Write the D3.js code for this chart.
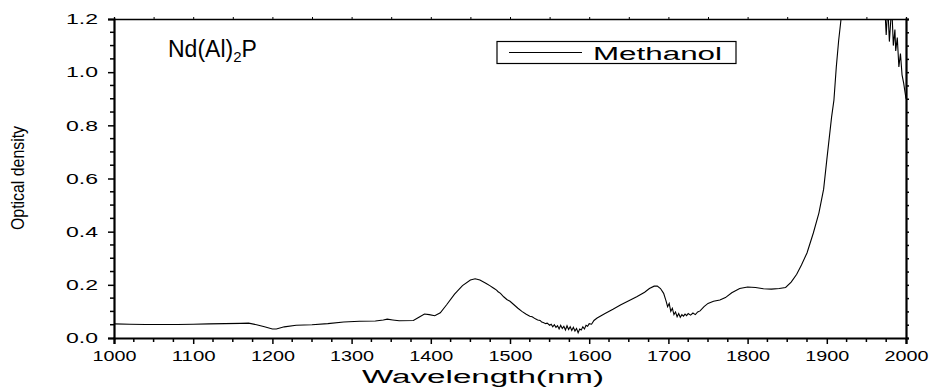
<!DOCTYPE html>
<html>
<head>
  <meta charset="UTF-8">
  <style>
    body { margin: 0; background: #fff; }
    text { font-family: Arial, "Liberation Sans", sans-serif; fill: #000; }
  </style>
</head>
<body>
<script type='text/javascript' src='https://d3js.org/d3.v7.min.js'></script>
<script>
  var width = 932, height = 387;

  // wavelength (nm) and optical density
  var wavelength = [1000,1020,1040,1060,1080,1100,1120,1140,1160,1170,1180,1190,1200,1205,1215,1230,1250,1270,1290,1310,1330,1340,1345,1352,1360,1378,1385,1392,1398,1405,1412,1420,1430,1440,1450,1456,1462,1470,1475,1478,1480,1483,1485,1488,1492,1496,1500,1505,1510,1515,1520,1525,1528,1532,1535,1538,1540,1542,1545,1547,1550,1552,1554,1556,1558,1560,1562,1564,1566,1568,1570,1572,1574,1576,1578,1580,1582,1584,1586,1588,1590,1592,1594,1596,1598,1600,1603,1606,1610,1620,1630,1640,1650,1660,1670,1676,1682,1686,1690,1694,1697,1699,1701,1703,1705,1707,1709,1711,1713,1715,1717,1719,1721,1723,1725,1728,1731,1734,1737,1740,1745,1750,1757,1765,1772,1780,1790,1800,1810,1820,1830,1840,1848,1855,1862,1868,1875,1883,1890,1896,1900,1906,1909,1912,1915,1918,1922,1940,1960,1972,1974,1975,1977,1979,1982,1984,1986,1987,1989,1991,1993,1995,1997,2000];
  var methanol = [0.053,0.052,0.051,0.051,0.051,0.052,0.053,0.054,0.055,0.056,0.050,0.042,0.034,0.034,0.042,0.048,0.050,0.054,0.060,0.063,0.064,0.068,0.071,0.068,0.065,0.066,0.078,0.090,0.088,0.084,0.095,0.125,0.165,0.197,0.218,0.223,0.218,0.205,0.196,0.190,0.186,0.180,0.174,0.168,0.155,0.145,0.138,0.125,0.112,0.100,0.090,0.082,0.080,0.072,0.068,0.066,0.060,0.058,0.054,0.056,0.048,0.052,0.042,0.050,0.040,0.046,0.034,0.048,0.036,0.044,0.030,0.046,0.032,0.042,0.028,0.040,0.026,0.036,0.020,0.034,0.030,0.042,0.034,0.048,0.044,0.054,0.052,0.066,0.075,0.092,0.108,0.125,0.140,0.155,0.172,0.186,0.195,0.195,0.186,0.168,0.140,0.118,0.130,0.100,0.112,0.088,0.098,0.080,0.092,0.078,0.088,0.082,0.090,0.084,0.092,0.086,0.094,0.088,0.098,0.102,0.118,0.130,0.138,0.143,0.152,0.170,0.186,0.192,0.190,0.185,0.184,0.186,0.190,0.210,0.240,0.275,0.320,0.395,0.470,0.560,0.670,0.830,0.895,1.020,1.120,1.200,1.300,1.400,1.400,1.260,1.200,1.140,1.250,1.115,1.250,1.100,1.160,1.080,1.130,1.020,1.070,0.990,0.960,0.900];

  var xTicks = [1000,1100,1200,1300,1400,1500,1600,1700,1800,1900,2000];
  var yTicks = [0.0,0.2,0.4,0.6,0.8,1.0,1.2];

  // plot frame (don't call these top/left: window.top is read-only)
  var plotL = 114, plotR = 906, plotT = 19, plotB = 338;

  var svg = d3.select('body').append('svg').attr('width', width).attr('height', height);

  var x = d3.scaleLinear().domain([1000, 2000]).range([plotL, plotR]);
  var y = d3.scaleLinear().domain([0, 1.2]).range([plotB, plotT]);

  svg.append('clipPath').attr('id', 'plot')
    .append('rect').attr('x', plotL).attr('y', plotT).attr('width', plotR - plotL).attr('height', plotB - plotT);

  // curve
  var line = d3.line().x(function(d, i) { return x(wavelength[i]) }).y(function(d) { return y(d) });
  svg.append('path')
    .datum(methanol)
    .attr('clip-path', 'url(#plot)')
    .attr('d', line)
    .attr('fill', 'none').attr('stroke', '#000').attr('stroke-width', 1.1);

  // minor ticks
  var xMinor = d3.range(1000, 2001, 25).filter(function(v) { return v % 100 != 0 });
  var yMinor = d3.range(0, 1.21, 0.05).filter(function(v) { return Math.round(v * 100) % 20 != 0 });

  var bottomAxis = svg.append('g').attr('transform', 'translate(0,' + plotB + ')')
    .call(d3.axisBottom(x).tickValues(xTicks).tickFormat(d3.format('d')).tickSize(6).tickPadding(6));
  bottomAxis.selectAll('.minor').data(xMinor).join('line').attr('class', 'minor')
    .attr('x1', x).attr('x2', x).attr('y1', 0).attr('y2', 4).attr('stroke', '#000').attr('stroke-width', 1.5);

  var leftAxis = svg.append('g').attr('transform', 'translate(' + plotL + ',0)')
    .call(d3.axisLeft(y).tickValues(yTicks).tickFormat(d3.format('.1f')).tickSize(6).tickPadding(10));
  leftAxis.selectAll('.minor').data(yMinor).join('line').attr('class', 'minor')
    .attr('y1', y).attr('y2', y).attr('x1', 0).attr('x2', -4).attr('stroke', '#000').attr('stroke-width', 1.5);

  var topAxis = svg.append('g').attr('transform', 'translate(0,' + plotT + ')')
    .call(d3.axisTop(x).tickValues(d3.range(1000, 2001, 50)).tickFormat('').tickSize(2));
  var rightAxis = svg.append('g').attr('transform', 'translate(' + plotR + ',0)')
    .call(d3.axisRight(y).tickValues(d3.range(0, 1.21, 0.05)).tickFormat('').tickSize(3));

  [bottomAxis, leftAxis, rightAxis].forEach(function(g) {
    g.select('.domain').attr('stroke-width', 2.2);
    g.selectAll('.tick line').attr('stroke-width', 1.5);
  });
  topAxis.select('.domain').attr('stroke-width', 1.3);

  bottomAxis.selectAll('.tick text')
    .attr('font-size', 15).style('font-family', 'Arial, "Liberation Sans", sans-serif')
    .attr('textLength', 44).attr('lengthAdjust', 'spacingAndGlyphs');
  leftAxis.selectAll('.tick text')
    .attr('font-size', 15).style('font-family', 'Arial, "Liberation Sans", sans-serif')
    .attr('textLength', 32).attr('lengthAdjust', 'spacingAndGlyphs');

  // axis titles
  svg.append('text').attr('x', 483).attr('y', 383)
    .attr('text-anchor', 'middle').attr('font-size', 18)
    .attr('textLength', 242).attr('lengthAdjust', 'spacingAndGlyphs')
    .text('Wavelength(nm)');
  svg.append('text').attr('transform', 'translate(24,178) rotate(-90)')
    .attr('text-anchor', 'middle').attr('font-size', 18)
    .attr('textLength', 104).attr('lengthAdjust', 'spacingAndGlyphs')
    .text('Optical density');

  // sample title
  var title = svg.append('text').attr('x', 168).attr('y', 57).attr('font-size', 23);
  title.append('tspan').text('Nd(Al)');
  title.append('tspan').attr('font-size', 15).attr('dy', 5).text('2');
  title.append('tspan').attr('dy', -5).text('P');

  // legend
  var legend = svg.append('g');
  legend.append('rect').attr('x', 497).attr('y', 41.5).attr('width', 239).attr('height', 22)
    .attr('fill', 'none').attr('stroke', '#000').attr('stroke-width', 1.2);
  legend.append('line').attr('x1', 509).attr('x2', 582).attr('y1', 52.5).attr('y2', 52.5)
    .attr('stroke', '#000').attr('stroke-width', 1);
  legend.append('text').attr('x', 593).attr('y', 59.5).attr('font-size', 18)
    .attr('textLength', 129).attr('lengthAdjust', 'spacingAndGlyphs')
    .text('Methanol');

  console.log('ready..');
</script>
</body>
</html>
